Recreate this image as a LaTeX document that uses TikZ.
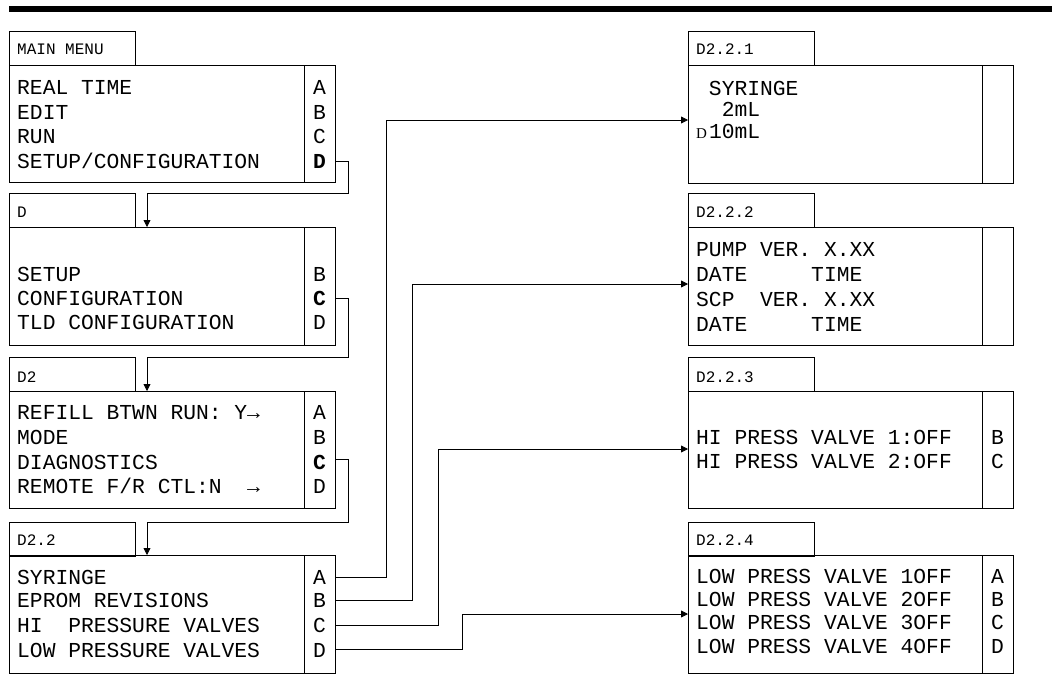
\documentclass[tikz,border=0pt]{standalone}
\usepackage{fontspec}
\newfontfamily\monofont{Liberation Mono}
\newfontfamily\dserif{Liberation Serif}
\usetikzlibrary{arrows.meta}
\newcommand\bigmono{\monofont\fontsize{21.3}{21.3}\selectfont\frenchspacing}
\newcommand\smallmono{\monofont\fontsize{16}{16}\selectfont\frenchspacing}
\begin{document}
\begin{tikzpicture}[x=1pt,y=-1pt,
  frame/.style={draw, line width=1pt, inner sep=0pt, outer sep=0pt, anchor=north west},
  tabbox/.style={frame, minimum width=126pt, minimum height=34pt},
  keycol/.style={draw, line width=1pt, inner sep=0pt, outer sep=0pt, anchor=north east, minimum width=31pt},
  tabtext/.style={font=\smallmono, anchor=base west, inner sep=0pt},
  menutext/.style={font=\bigmono, anchor=base west, inner sep=0pt},
  keytext/.style={font=\bigmono, anchor=base, inner sep=0pt},
  conn/.style={line width=0.8pt},
  arr/.style={conn, -{Triangle[length=7pt,width=7pt]}}]
\useasboundingbox (0,0) rectangle (1052,691);
\fill[black] (9,6) rectangle (1052,12);

% ---------- LEFT COLUMN ----------
% MAIN MENU
\node[tabbox] (tabL1) at (9,31) {};
\node[tabtext] (ttL1) at (17,54.5) {MAIN MENU};
\node[frame, minimum width=326pt, minimum height=117pt] (bodyL1) at (9,65) {};
\node[keycol, minimum height=117pt] (colL1) at (335,65) {};
\node[menutext] (mL1a) at (17,94.5) {REAL TIME};
\node[menutext] (mL1b) at (17,119.5) {EDIT};
\node[menutext] (mL1c) at (17,143.5) {RUN};
\node[menutext] (mL1d) at (17,168.5) {SETUP/CONFIGURATION};
\node[keytext] (kL1A) at (319.5,94.5) {A};
\node[keytext] (kL1B) at (319.5,119.5) {B};
\node[keytext] (kL1C) at (319.5,143.5) {C};
\node[keytext] (kL1D) at (319.5,168.5) {\bfseries D};

% D
\node[tabbox] (tabL2) at (9,193) {};
\node[tabtext] (ttL2) at (17,217) {D};
\node[frame, minimum width=326pt, minimum height=118pt] (bodyL2) at (9,227) {};
\node[keycol, minimum height=118pt] (colL2) at (335,227) {};
\node[menutext] (mL2b) at (17,281.5) {SETUP};
\node[menutext] (mL2c) at (17,305.5) {CONFIGURATION};
\node[menutext] (mL2d) at (17,329.5) {TLD CONFIGURATION};
\node[keytext] (kL2B) at (319.5,281.5) {B};
\node[keytext] (kL2C) at (319.5,305.5) {\bfseries C};
\node[keytext] (kL2D) at (319.5,329.5) {D};

% D2
\node[tabbox] (tabL3) at (9,357) {};
\node[tabtext] (ttL3) at (17,382) {D2};
\node[frame, minimum width=326pt, minimum height=117pt] (bodyL3) at (9,391) {};
\node[keycol, minimum height=117pt] (colL3) at (335,391) {};
\node[menutext] (mL3a) at (17,419.5) {REFILL BTWN RUN: Y→};
\node[menutext] (mL3b) at (17,444.5) {MODE};
\node[menutext] (mL3c) at (17,469.5) {DIAGNOSTICS};
\node[menutext] (mL3d) at (17,493.5) {REMOTE F/R CTL:N~~→};
\node[keytext] (kL3A) at (319.5,419.5) {A};
\node[keytext] (kL3B) at (319.5,444.5) {B};
\node[keytext] (kL3C) at (319.5,469.5) {\bfseries C};
\node[keytext] (kL3D) at (319.5,493.5) {D};

% D2.2
\node[tabbox] (tabL4) at (9,522) {};
\node[tabtext] (ttL4) at (17,545.5) {D2.2};
\node[frame, minimum width=326pt, minimum height=118pt] (bodyL4) at (9,555) {};
\node[keycol, minimum height=118pt] (colL4) at (335,555) {};
\node[menutext] (mL4a) at (17,584.5) {SYRINGE};
\node[menutext] (mL4b) at (17,607.5) {EPROM REVISIONS};
\node[menutext] (mL4c) at (17,632.5) {HI~~PRESSURE VALVES};
\node[menutext] (mL4d) at (17,657.5) {LOW PRESSURE VALVES};
\node[keytext] (kL4A) at (319.5,584.5) {A};
\node[keytext] (kL4B) at (319.5,607.5) {B};
\node[keytext] (kL4C) at (319.5,632.5) {C};
\node[keytext] (kL4D) at (319.5,657.5) {D};

% ---------- RIGHT COLUMN ----------
% D2.2.1
\node[tabbox] (tabR1) at (688,31) {};
\node[tabtext] (ttR1) at (696,54.5) {D2.2.1};
\node[frame, minimum width=325pt, minimum height=118pt] (bodyR1) at (688,65) {};
\node[keycol, minimum height=118pt] (colR1) at (1013,65) {};
\node[menutext] (mR1a) at (696,95.5) {\hphantom{0}SYRINGE};
\node[menutext] (mR1b) at (696,116.5) {\hphantom{00}2mL};
\node[menutext] (mR1c) at (696,138.5) {\makebox[12.8pt][l]{\dserif\fontsize{15}{15}\selectfont D}10mL};

% D2.2.2
\node[tabbox] (tabR2) at (688,193) {};
\node[tabtext] (ttR2) at (696,217) {D2.2.2};
\node[frame, minimum width=325pt, minimum height=118pt] (bodyR2) at (688,227) {};
\node[keycol, minimum height=118pt] (colR2) at (1013,227) {};
\node[menutext] (mR2a) at (696,256.5) {PUMP VER. X.XX};
\node[menutext] (mR2b) at (696,281.5) {DATE~~~~~TIME};
\node[menutext] (mR2c) at (696,306.5) {SCP~~VER. X.XX};
\node[menutext] (mR2d) at (696,331.5) {DATE~~~~~TIME};

% D2.2.3
\node[tabbox] (tabR3) at (688,357) {};
\node[tabtext] (ttR3) at (696,382) {D2.2.3};
\node[frame, minimum width=325pt, minimum height=117pt] (bodyR3) at (688,391) {};
\node[keycol, minimum height=117pt] (colR3) at (1013,391) {};
\node[menutext] (mR3a) at (696,444.5) {HI PRESS VALVE 1:OFF};
\node[menutext] (mR3b) at (696,468.5) {HI PRESS VALVE 2:OFF};
\node[keytext] (kR3B) at (997.5,444.5) {B};
\node[keytext] (kR3C) at (997.5,468.5) {C};

% D2.2.4
\node[tabbox] (tabR4) at (688,522) {};
\node[tabtext] (ttR4) at (696,545.5) {D2.2.4};
\node[frame, minimum width=325pt, minimum height=118pt] (bodyR4) at (688,555) {};
\node[keycol, minimum height=118pt] (colR4) at (1013,555) {};
\node[menutext] (mR4a) at (696,583.5) {LOW PRESS VALVE 1OFF};
\node[menutext] (mR4b) at (696,606.5) {LOW PRESS VALVE 2OFF};
\node[menutext] (mR4c) at (696,629.5) {LOW PRESS VALVE 3OFF};
\node[menutext] (mR4d) at (696,653.5) {LOW PRESS VALVE 4OFF};
\node[keytext] (kR4A) at (997.5,583.5) {A};
\node[keytext] (kR4B) at (997.5,606.5) {B};
\node[keytext] (kR4C) at (997.5,629.5) {C};
\node[keytext] (kR4D) at (997.5,653.5) {D};

% ---------- CONNECTORS ----------
\coordinate (p1a) at (348,193);
\coordinate (p1b) at (147,193);
\coordinate (p2a) at (348,357);
\coordinate (p2b) at (147,357);
\coordinate (p3a) at (348,522);
\coordinate (p3b) at (147,522);
\draw[arr] (bodyL1.east |- kL1D) -| (p1a) -- (p1b) -- (p1b |- bodyL2.north);
\draw[arr] (bodyL2.east |- kL2C) -| (p2a) -- (p2b) -- (p2b |- bodyL3.north);
\draw[arr] (bodyL3.east |- 0,459) -| (p3a) -- (p3b) -- (p3b |- bodyL4.north);

\coordinate (q1) at (386,120);
\coordinate (q2) at (412,284);
\coordinate (q3) at (438,449);
\coordinate (q4) at (462,614);
\draw[arr] (bodyL4.east |- 0,577) -| (q1) -- (q1 -| bodyR1.west);
\draw[arr] (bodyL4.east |- 0,600) -| (q2) -- (q2 -| bodyR2.west);
\draw[arr] (bodyL4.east |- 0,625) -| (q3) -- (q3 -| bodyR3.west);
\draw[arr] (bodyL4.east |- 0,649) -| (q4) -- (q4 -| bodyR4.west);
\end{tikzpicture}
\end{document}
